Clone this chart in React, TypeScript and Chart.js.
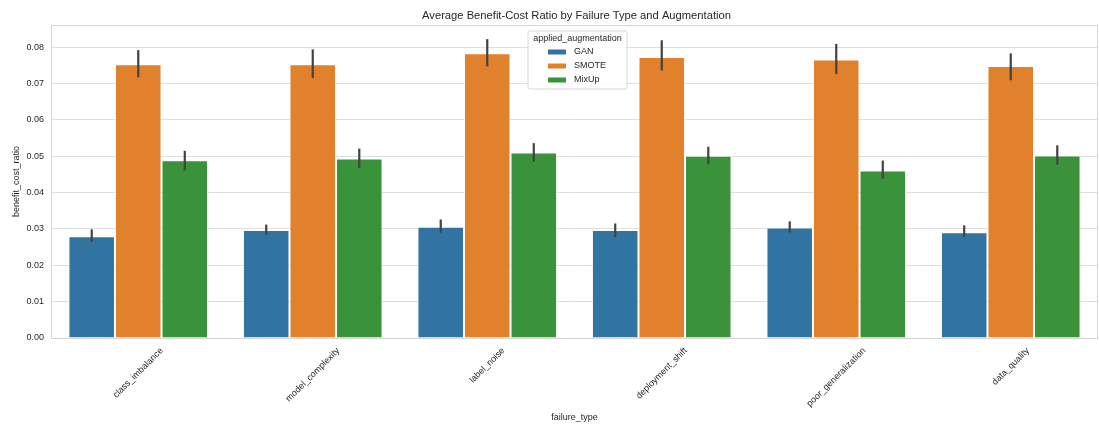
import React, { useEffect, useRef } from "react";
import { Chart, registerables } from "chart.js";

Chart.register(...registerables);

const categories = [
  "class_imbalance",
  "model_complexity",
  "label_noise",
  "deployment_shift",
  "poor_generalization",
  "data_quality",
];
const seriesNames = ["GAN", "SMOTE", "MixUp"];
const seriesColors = ["#3274a1", "#e1812c", "#3a923a"];

const ganValues = [0.028, 0.0297, 0.0306, 0.0297, 0.0304, 0.0291];
const ganLow = [0.0264, 0.0284, 0.029, 0.0278, 0.029, 0.0278];
const ganHigh = [0.0299, 0.0312, 0.0326, 0.0315, 0.0321, 0.031];

const smoteValues = [0.0753, 0.0753, 0.0783, 0.0773, 0.0766, 0.0748];
const smoteLow = [0.0717, 0.0715, 0.0747, 0.0736, 0.0726, 0.0709];
const smoteHigh = [0.0792, 0.0794, 0.0822, 0.0819, 0.0809, 0.0783];

const mixupValues = [0.0489, 0.0494, 0.051, 0.0501, 0.0461, 0.0502];
const mixupLow = [0.0461, 0.0468, 0.0485, 0.0478, 0.0438, 0.0477];
const mixupHigh = [0.0515, 0.0521, 0.0536, 0.0526, 0.0488, 0.053];

const yMax = 0.0861;
const yStep = 0.01;

const titleText = "Average Benefit-Cost Ratio by Failure Type and Augmentation";
const xTitle = "failure_type";
const yTitle = "benefit_cost_ratio";
const legendTitle = "applied_augmentation";

const FONT = "'Liberation Sans', Arial, sans-serif";
const TEXT = "#262626";

const lows = [ganLow, smoteLow, mixupLow];
const highs = [ganHigh, smoteHigh, mixupHigh];

const decorPlugin = {
  id: "decor",
  beforeDatasetsDraw(chart: any) {
    const { ctx, chartArea } = chart;
    ctx.save();
    ctx.strokeStyle = "#d6d6d6";
    ctx.lineWidth = 1;
    ctx.strokeRect(
      Math.round(chartArea.left) + 0.5,
      Math.round(chartArea.top) + 0.5,
      Math.round(chartArea.right - chartArea.left) - 1,
      Math.round(chartArea.bottom - chartArea.top)
    );
    ctx.restore();
  },
  afterDatasetsDraw(chart: any) {
    const { ctx } = chart;
    const yScale = chart.scales.y;
    ctx.save();
    ctx.strokeStyle = "#424242";
    ctx.lineWidth = 2.2;
    ctx.lineCap = "butt";
    chart.data.datasets.forEach((_: any, di: number) => {
      const meta = chart.getDatasetMeta(di);
      meta.data.forEach((bar: any, i: number) => {
        const x = bar.x;
        ctx.beginPath();
        ctx.moveTo(x, yScale.getPixelForValue(lows[di][i]));
        ctx.lineTo(x, yScale.getPixelForValue(highs[di][i]));
        ctx.stroke();
      });
    });
    ctx.restore();
  },
  afterDraw(chart: any) {
    const { ctx, chartArea } = chart;
    const xScale = chart.scales.x;
    const cx = (chartArea.left + chartArea.right) / 2;
    ctx.save();
    // title
    ctx.fillStyle = TEXT;
    ctx.font = `11.2px ${FONT}`;
    ctx.textAlign = "center";
    ctx.textBaseline = "middle";
    ctx.fillText(titleText, cx + 2, 16);

    // x tick labels rotated 45, bbox centered on tick
    ctx.font = `9px ${FONT}`;
    categories.forEach((lab, i) => {
      const x = xScale.getPixelForTick(i);
      const w = ctx.measureText(lab).width;
      const side = (w + 8) * Math.SQRT1_2;
      const y = chartArea.bottom + 8.5 + side / 2;
      ctx.save();
      ctx.translate(x, y);
      ctx.rotate(-Math.PI / 4);
      ctx.textAlign = "center";
      ctx.textBaseline = "middle";
      ctx.fillText(lab, 0, 0);
      ctx.restore();
    });

    // legend
    const lx = 528;
    const ly = 31;
    const lw = 99;
    const lh = 58;
    ctx.beginPath();
    const r = 2;
    ctx.moveTo(lx + r, ly);
    ctx.lineTo(lx + lw - r, ly);
    ctx.quadraticCurveTo(lx + lw, ly, lx + lw, ly + r);
    ctx.lineTo(lx + lw, ly + lh - r);
    ctx.quadraticCurveTo(lx + lw, ly + lh, lx + lw - r, ly + lh);
    ctx.lineTo(lx + r, ly + lh);
    ctx.quadraticCurveTo(lx, ly + lh, lx, ly + lh - r);
    ctx.lineTo(lx, ly + r);
    ctx.quadraticCurveTo(lx, ly, lx + r, ly);
    ctx.closePath();
    ctx.fillStyle = "rgba(255,255,255,0.85)";
    ctx.fill();
    ctx.strokeStyle = "#d6d6d6";
    ctx.lineWidth = 1;
    ctx.stroke();

    ctx.fillStyle = TEXT;
    ctx.font = `9px ${FONT}`;
    ctx.textAlign = "center";
    ctx.textBaseline = "middle";
    ctx.fillText(legendTitle, lx + lw / 2, 38.5);
    seriesNames.forEach((name, i) => {
      const yy = 52 + i * 14;
      ctx.fillStyle = seriesColors[i];
      ctx.fillRect(548, yy - 2.5, 18, 5);
      ctx.fillStyle = TEXT;
      ctx.textAlign = "left";
      ctx.fillText(name, 574, yy);
    });
    ctx.restore();
  },
};

export default function App() {
  const ref = useRef<HTMLCanvasElement | null>(null);
  useEffect(() => {
    document.body.style.margin = "0";
    const canvas = ref.current;
    if (!canvas) return;
    const values = [ganValues, smoteValues, mixupValues];
    const chart = new Chart(canvas, {
      type: "bar",
      data: {
        labels: categories,
        datasets: seriesNames.map((name, i) => ({
          label: name,
          data: values[i],
          backgroundColor: seriesColors[i],
          borderColor: "rgba(255,255,255,0.75)",
          borderWidth: 1,
          categoryPercentage: 0.8,
          barPercentage: 1.0,
        })),
      },
      options: {
        animation: false,
        responsive: false,
        devicePixelRatio: 1,
        layout: { padding: { top: 25, right: 1, left: 0, bottom: 0 } },
        plugins: {
          legend: { display: false },
          title: { display: false },
          tooltip: { enabled: false },
        },
        scales: {
          x: {
            grid: { display: false },
            border: { display: false },
            ticks: { display: false },
            title: {
              display: true,
              text: xTitle,
              color: TEXT,
              font: { family: FONT, size: 9 },
              padding: { top: 0, bottom: 1.6 },
            },
            afterFit(scale: any) {
              scale.height = 87;
            },
          },
          y: {
            min: 0,
            max: yMax,
            grid: { color: "#dedede", lineWidth: 1, drawTicks: false },
            border: { display: false },
            ticks: {
              stepSize: yStep,
              includeBounds: false,
              padding: 7,
              color: TEXT,
              font: { family: FONT, size: 9 },
              callback: (v: any) => Number(v).toFixed(2),
            },
            title: {
              display: true,
              text: yTitle,
              color: TEXT,
              font: { family: FONT, size: 9 },
              padding: { top: 11.6, bottom: 0 },
            },
            afterFit(scale: any) {
              scale.width = 51;
            },
          },
        },
      },
      plugins: [decorPlugin],
    });
    return () => chart.destroy();
  }, []);
  return (
    <div style={{ width: 1099, height: 425 }}>
      <canvas ref={ref} width={1099} height={425} style={{ display: "block" }} />
    </div>
  );
}
